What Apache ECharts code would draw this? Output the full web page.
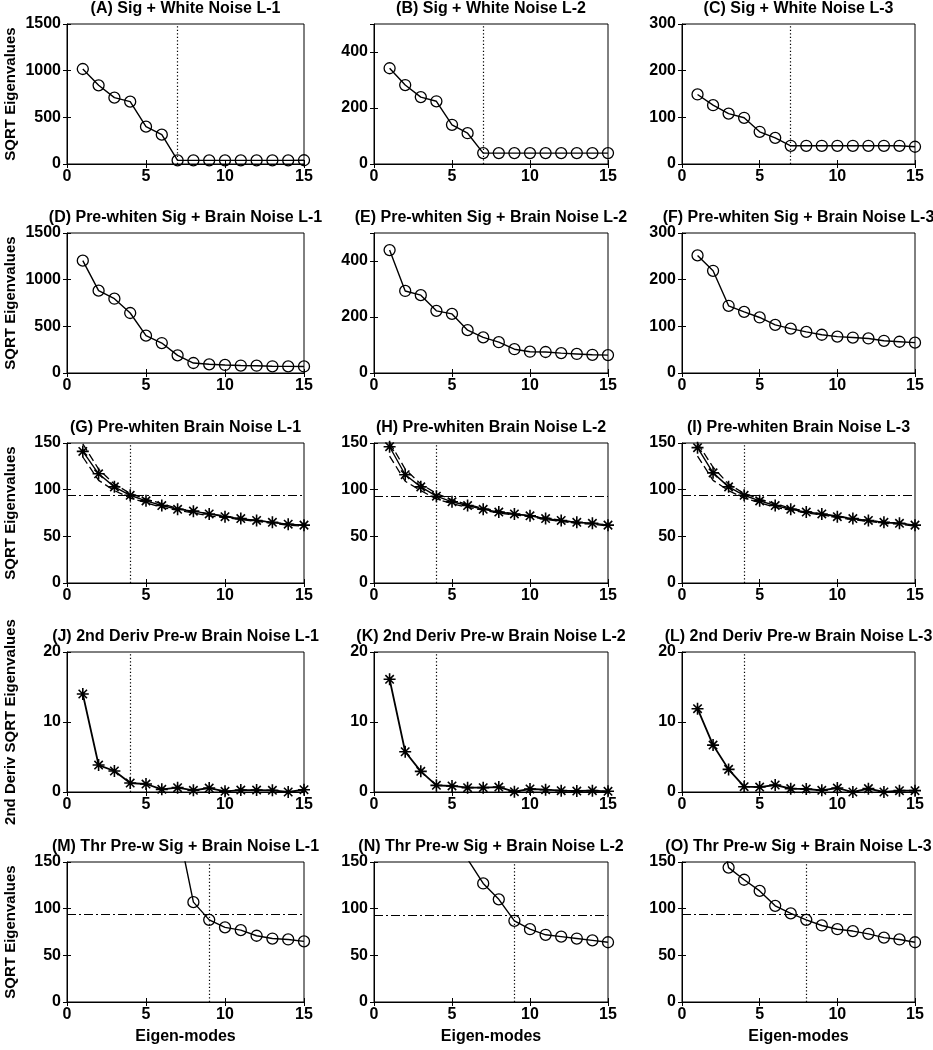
<!DOCTYPE html>
<html><head><meta charset="utf-8">
<script src="https://cdn.jsdelivr.net/npm/echarts@6/dist/echarts.min.js"></script>
<style>html,body{margin:0;padding:0;background:#fff}#c{width:933px;height:1050px}</style>
</head><body><div id="c"></div>
<script>
// ---------------- data ----------------
const eigenModes = [1,2,3,4,5,6,7,8,9,10,11,12,13,14,15];
const titles = [
  "(A) Sig + White Noise L-1", "(B) Sig + White Noise L-2", "(C) Sig + White Noise L-3",
  "(D) Pre-whiten Sig + Brain Noise L-1", "(E) Pre-whiten Sig + Brain Noise L-2", "(F) Pre-whiten Sig + Brain Noise L-3",
  "(G) Pre-whiten Brain Noise L-1", "(H) Pre-whiten Brain Noise L-2", "(I) Pre-whiten Brain Noise L-3",
  "(J) 2nd Deriv Pre-w Brain Noise L-1", "(K) 2nd Deriv Pre-w Brain Noise L-2", "(L) 2nd Deriv Pre-w Brain Noise L-3",
  "(M) Thr Pre-w Sig + Brain Noise L-1", "(N) Thr Pre-w Sig + Brain Noise L-2", "(O) Thr Pre-w Sig + Brain Noise L-3"
];
const yNames = ["SQRT Eigenvalues", "SQRT Eigenvalues", "SQRT Eigenvalues", "2nd Deriv SQRT Eigenvalues", "SQRT Eigenvalues"];
const xName = "Eigen-modes";
const yMax      = [1500, 500, 300, 1500, 500, 300, 150, 150, 150, 20, 20, 20, 150, 150, 150];
const yInterval = [500, 200, 100, 500, 200, 100, 50, 50, 50, 10, 10, 10, 50, 50, 50];

const valsA = [1018, 843, 711, 668, 400, 314, 39, 39, 39, 39, 39, 39, 39, 39, 40];
const valsB = [342, 282, 239, 224, 140, 110, 39, 39, 39, 39, 39, 39, 39, 39, 39];
const valsC = [149, 126, 108, 99, 69, 56, 39, 39, 39, 39, 39, 39, 39, 39, 37];
const valsD = [1204, 882, 796, 643, 400, 321, 189, 107, 93, 86, 80, 78, 72, 71, 70];
const valsE = [439, 293, 278, 222, 211, 153, 127, 110, 85, 76, 75, 71, 68, 65, 64];
const valsF = [252, 219, 144, 131, 119, 103, 95, 88, 82, 78, 76, 74, 69, 67, 65];
const valsG = [141, 117, 103, 94, 88, 83, 79, 77, 74, 71, 69, 67, 65, 63, 62];
const valsH = [146, 116, 103, 93, 87, 83, 79, 76, 74, 72, 69, 67, 65, 64, 62];
const valsI = [145, 118, 103, 94, 88, 83, 79, 76, 74, 71, 69, 67, 65, 64, 62];
const upperG = [149, 122, 106, 96, 90, 85, 80, 77, 74, 72, 69, 67, 65, 63, 62];
const lowerG = [135, 110, 99, 91, 86, 81, 78, 75, 72, 70, 68, 66, 64, 62, 61];
const upperH = [151, 122, 106, 96, 89, 84, 80, 77, 74, 72, 70, 67, 65, 64, 62];
const lowerH = [136, 109, 99, 90, 85, 81, 78, 75, 73, 71, 68, 66, 64, 63, 61];
const upperI = [150, 124, 106, 96, 90, 85, 80, 77, 74, 72, 69, 67, 65, 64, 62];
const lowerI = [136, 110, 99, 91, 86, 81, 78, 75, 73, 70, 68, 66, 64, 63, 61];
const valsJ = [14.0, 3.85, 3.0, 1.28, 1.14, 0.38, 0.62, 0.24, 0.57, 0.1, 0.28, 0.28, 0.24, 0.0, 0.33];
const valsK = [16.1, 5.75, 2.95, 0.95, 0.86, 0.62, 0.62, 0.71, 0.05, 0.43, 0.33, 0.19, 0.14, 0.19, 0.1];
const valsL = [11.9, 6.7, 3.23, 0.76, 0.71, 1.0, 0.48, 0.43, 0.24, 0.57, 0.0, 0.48, 0.0, 0.19, 0.19];
const valsM = [1204, 882, 796, 643, 400, 321, 189, 107, 88, 80, 77, 71, 68, 67, 65];
const valsN = [439, 293, 278, 222, 211, 153, 127, 110, 87, 78, 72, 70, 68, 66, 64];
const valsO = [252, 219, 144, 131, 119, 103, 95, 88, 82, 78, 76, 73, 69, 67, 64];

const mainVals = [valsA, valsB, valsC, valsD, valsE, valsF, valsG, valsH, valsI, valsJ, valsK, valsL, valsM, valsN, valsO];
const upperVals = {6: upperG, 7: upperH, 8: upperI};
const lowerVals = {6: lowerG, 7: lowerH, 8: lowerI};
const cutoffs    = [7, 7, 7, null, null, null, 4, 4, 4, 4, 4, 4, 9, 9, 8];
const thresholds = [null, null, null, null, null, null, 94, 93, 94, null, null, null, 94, 93, 94];

// ---------------- layout ----------------
const colLeft = [67, 374, 682];
const colWidth = [237, 234, 233];
const rowTop = [24, 233, 443, 652, 862];
const plotH = 140;
const FONT = "'Liberation Sans', Arial, sans-serif";
const asterisk = 'path://M10,0L10,20M0,10L20,10M3,3L17,17M3,17L17,3';

const grids = [], xAxes = [], yAxes = [], series = [], graphics = [];
for (let p = 0; p < 15; p++) {
  const r = Math.floor(p / 3), c = p % 3;
  grids.push({left: colLeft[c], top: rowTop[r], width: colWidth[c], height: plotH,
    show: true, borderColor: '#000', borderWidth: 1, containLabel: false});
  const tickCommon = {show: true, inside: true, length: 4, lineStyle: {color: '#000', width: 1}};
  xAxes.push({gridIndex: p, type: 'value', position: 'bottom', min: 0, max: 15, interval: 5,
    axisLine: {show: true, onZero: false, lineStyle: {color: '#000', width: 1}},
    axisTick: tickCommon, splitLine: {show: false},
    axisLabel: {color: '#000', fontSize: 16, fontWeight: 'bold', fontFamily: FONT, margin: 5, formatter: v => String(v)},
    name: r === 4 ? xName : '', nameLocation: 'middle', nameGap: 27,
    nameTextStyle: {color: '#000', fontSize: 16, fontWeight: 'bold', fontFamily: FONT}});
  xAxes.push({gridIndex: p, type: 'value', position: 'top', min: 0, max: 15, interval: 5,
    axisLine: {show: false}, axisTick: tickCommon, axisLabel: {show: false}, splitLine: {show: false}});
  const hideMax = yMax[p] % yInterval[p] !== 0;
  yAxes.push({gridIndex: p, type: 'value', position: 'left', min: 0, max: yMax[p], interval: yInterval[p],
    axisLine: {show: true, onZero: false, lineStyle: {color: '#000', width: 1}},
    axisTick: tickCommon, splitLine: {show: false},
    axisLabel: {color: '#000', fontSize: 16, fontWeight: 'bold', fontFamily: FONT, margin: 6, showMaxLabel: !hideMax, formatter: v => String(v)},
    name: c === 0 ? yNames[r] : '', nameLocation: 'middle', nameGap: 49, nameRotate: 90,
    nameTextStyle: {color: '#000', fontSize: 15, fontWeight: 'bold', fontFamily: FONT}});
  yAxes.push({gridIndex: p, type: 'value', position: 'right', min: 0, max: yMax[p], interval: yInterval[p],
    axisLine: {show: false}, axisTick: tickCommon, axisLabel: {show: false}, splitLine: {show: false}});

  graphics.push({type: 'text', x: colLeft[c] + colWidth[c] / 2, y: rowTop[r] - 15,
    style: {text: titles[p], fill: '#000', font: "bold 16px " + FONT, textAlign: 'center', textVerticalAlign: 'middle'}});

  const isStar = (p >= 6 && p <= 11);
  const markData = [];
  if (cutoffs[p] !== null) markData.push({xAxis: cutoffs[p], lineStyle: {type: [1.2, 2.3], color: '#000', width: 1.2}});
  if (thresholds[p] !== null) markData.push({yAxis: thresholds[p], lineStyle: {type: [9, 3, 2, 3], color: '#000', width: 1.2}});
  const mk = (vals) => vals.map((v, i) => [eigenModes[i], v]);
  const symStyle = isStar
    ? {symbol: asterisk, symbolSize: 12, itemStyle: {color: 'rgba(0,0,0,0)', borderColor: '#000', borderWidth: 1.6}}
    : {symbol: 'circle', symbolSize: 11, itemStyle: {color: 'rgba(0,0,0,0)', borderColor: '#000', borderWidth: 1.3}};
  if (upperVals[p]) {
    [upperVals[p], lowerVals[p]].forEach(arr => {
      series.push({type: 'line', xAxisIndex: 2 * p, yAxisIndex: 2 * p, data: mk(arr), symbol: 'none',
        lineStyle: {color: '#000', width: 1.3, type: [8, 4]}, clip: true, silent: true, z: 2});
    });
  }
  series.push(Object.assign({type: 'line', xAxisIndex: 2 * p, yAxisIndex: 2 * p, data: mk(mainVals[p]),
    lineStyle: {color: '#000', width: (p >= 9 && p <= 11) ? 1.8 : 1.4}, showSymbol: true, clip: true, silent: true, z: 3,
    markLine: {silent: true, symbol: 'none', label: {show: false}, data: markData, animation: false}}, symStyle));
}

const chart = echarts.init(document.getElementById('c'), null, {renderer: 'canvas'});
chart.setOption({
  backgroundColor: '#fff', animation: false,
  grid: grids, xAxis: xAxes, yAxis: yAxes, series: series, graphic: graphics
});
</script></body></html>
